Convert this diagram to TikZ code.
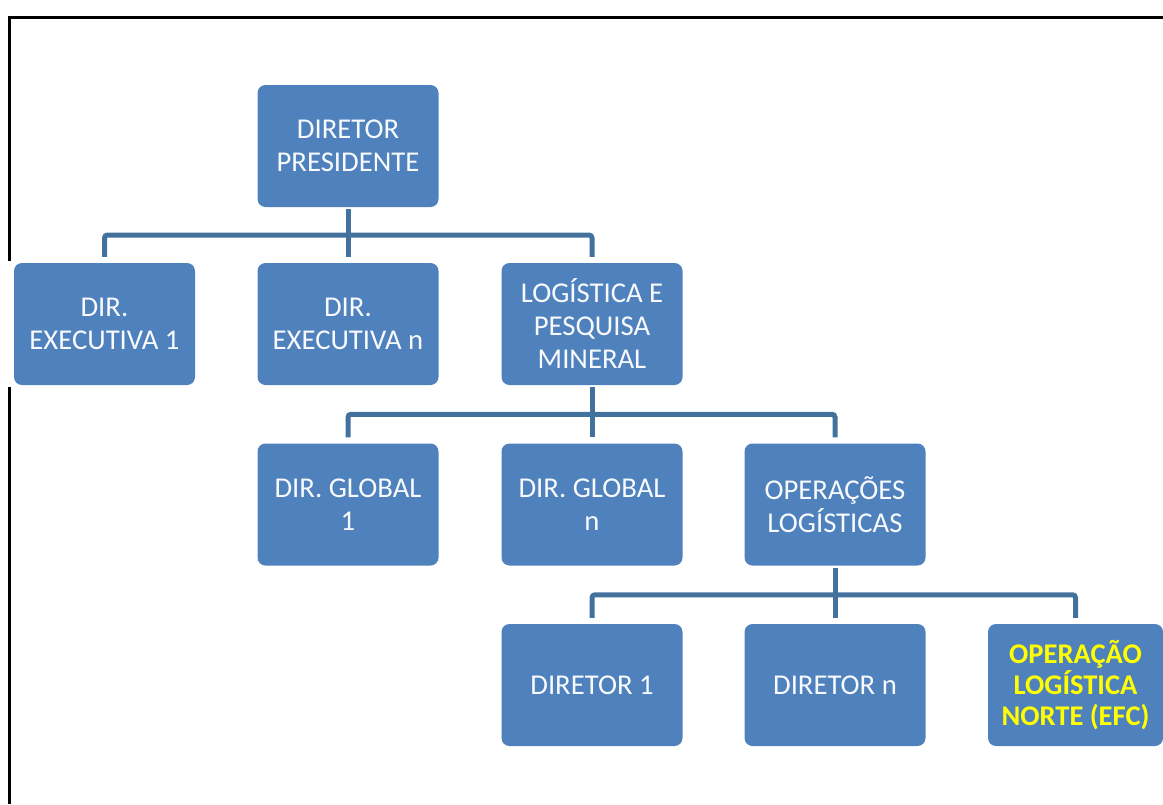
\documentclass[tikz,border=0pt]{standalone}
\usepackage{fontspec}
\setmainfont{Carlito}
\usetikzlibrary{calc}
\definecolor{boxblue}{HTML}{4F81BD}
\definecolor{linkblue}{HTML}{41719C}
\definecolor{txtwhite}{HTML}{F8FAFD}
\definecolor{hiyellow}{HTML}{FFFF00}
\tikzset{
  orgbox/.style={rectangle, rounded corners=8pt, fill=boxblue, draw=none,
    minimum width=181pt, minimum height=122pt, inner sep=0pt, align=center,
    text=txtwhite, font=\fontsize{28.7}{33}\selectfont},
  hibox/.style={orgbox, text=hiyellow, font=\fontsize{28.5}{31}\selectfont\bfseries},
  conn/.style={draw=linkblue, line width=5pt, rounded corners=3pt},
  frameline/.style={draw=black, line width=3pt}
}
\begin{document}
\begin{tikzpicture}[x=1pt,y=-1pt]
\useasboundingbox (0,0) rectangle (1163,804);
% frame
\coordinate (f1) at (9,17);
\coordinate (f2) at (1163,17);
\coordinate (f3) at (9,261);
\coordinate (f4) at (9,387);
\coordinate (f5) at (9,804);
\draw[frameline] (f2) -- (f1) -- (f3);
\draw[frameline] (f4) -- (f5);
% nodes
\node[orgbox] (P) at (348,146) {DIRETOR\\PRESIDENTE};
\node[orgbox] (E1) at (104.5,324) {DIR.\\EXECUTIVA 1};
\node[orgbox] (En) at (348,324) {DIR.\\EXECUTIVA n};
\node[orgbox] (L) at (592,324) {LOGÍSTICA E\\PESQUISA\\MINERAL};
\node[orgbox] (G1) at (348,504.5) {DIR. GLOBAL\\1};
\node[orgbox] (Gn) at (592,504.5) {DIR. GLOBAL\\n};
\node[orgbox] (O) at (835,504.5) {OPERAÇÕES\\LOGÍSTICAS};
\node[orgbox] (D1) at (592,685) {DIRETOR 1};
\node[orgbox] (Dn) at (835,685) {DIRETOR n};
\node[hibox, minimum width=175pt] (N) at (1075.5,685) {OPERAÇÃO\\LOGÍSTICA\\NORTE (EFC)};
% connectors level 1
\draw[conn] ([yshift=-2pt]P.south) -- ([yshift=6pt]En.north);
\draw[conn] ([yshift=6pt]E1.north) |- ($(P.south)!.5!(E1.north)$) -| ([yshift=6pt]L.north);
% level 2
\draw[conn] ([yshift=-2pt]L.south) -- ([yshift=6pt]Gn.north);
\draw[conn] ([yshift=6pt]G1.north) |- ($(L.south)!.5!(G1.north)$) -| ([yshift=6pt]O.north);
% level 3
\draw[conn] ([yshift=-2pt]O.south) -- ([yshift=6pt]Dn.north);
\draw[conn] ([yshift=6pt]D1.north) |- ($(O.south)!.5!(D1.north)$) -| ([yshift=6pt]N.north);
\end{tikzpicture}
\end{document}
